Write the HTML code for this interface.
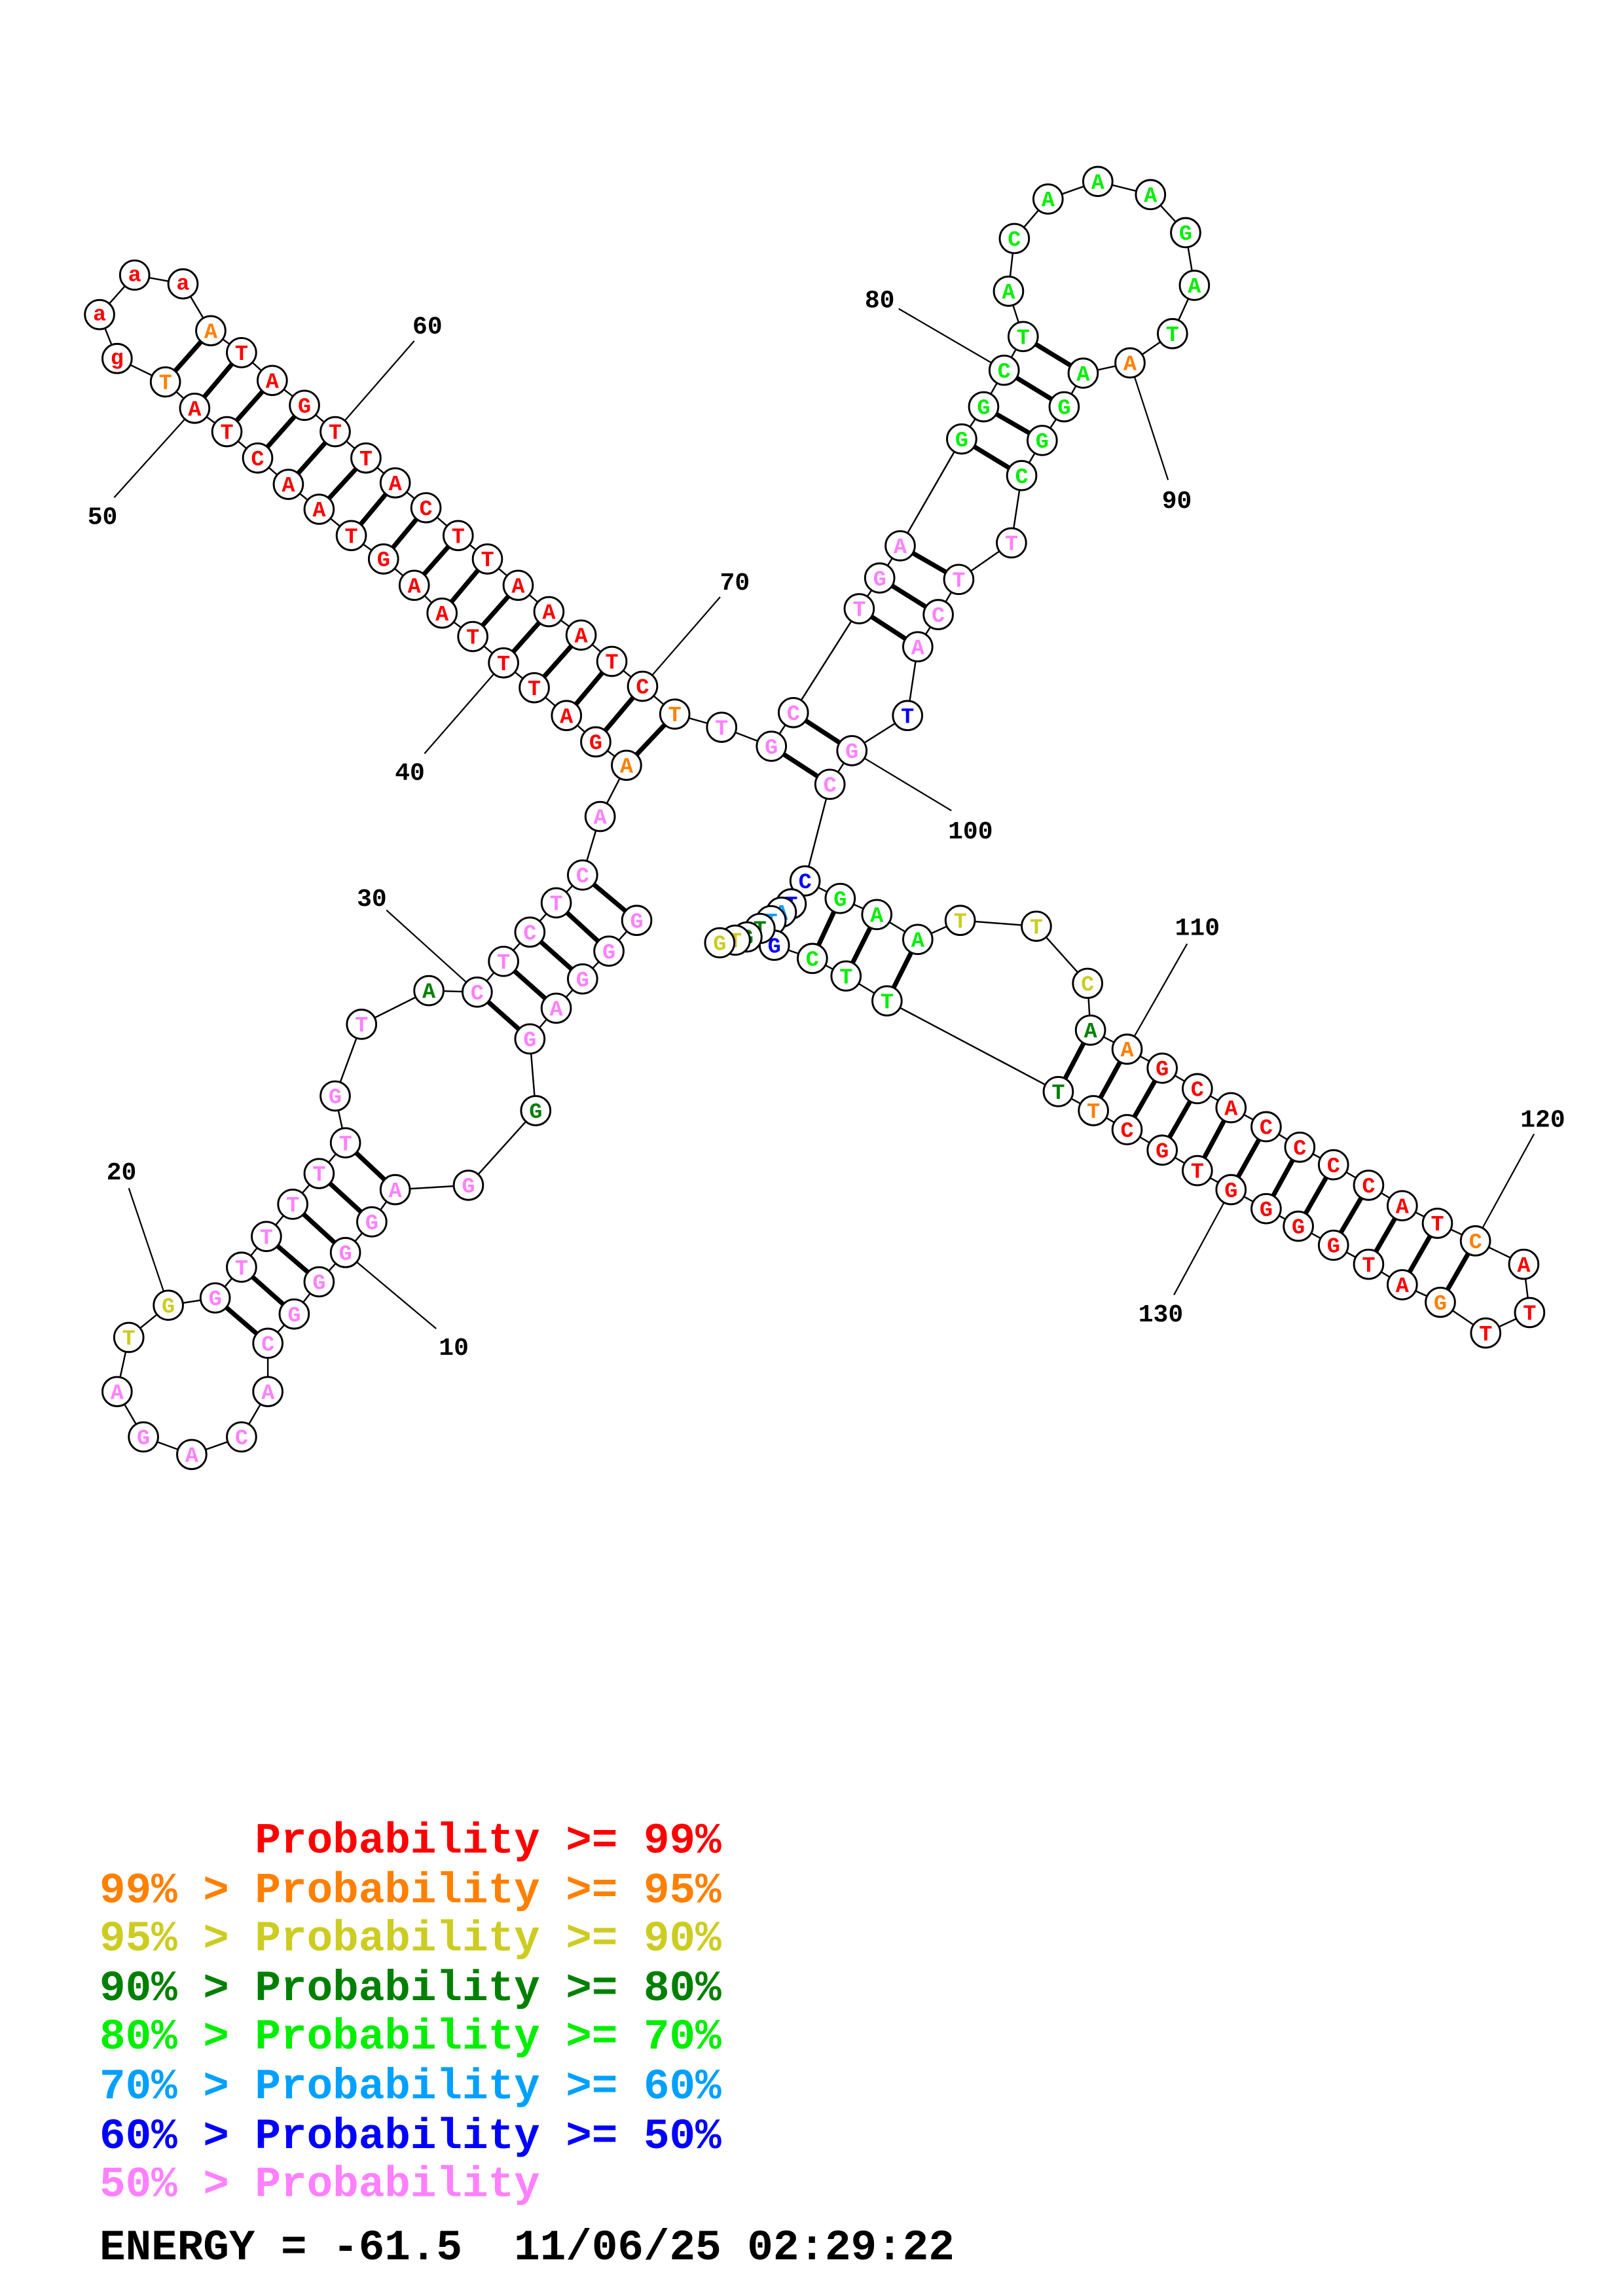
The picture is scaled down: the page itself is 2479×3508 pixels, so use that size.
<!DOCTYPE html>
<html><head><meta charset="utf-8"><style>
html,body{margin:0;padding:0;background:#fff}
svg{display:block}
.n circle{fill:#fff;stroke:#000;stroke-width:1.3}
.n text{font-family:"Liberation Mono",monospace;font-weight:bold;font-size:15px;text-anchor:middle}
.lb{font-family:"Liberation Mono",monospace;font-weight:bold;font-size:17px;fill:#000;text-anchor:middle}
.lg{font-family:"Liberation Mono",monospace;font-weight:bold;font-size:29.5px;white-space:pre}
</style></head><body>
<svg width="2479" height="3508" viewBox="0 0 1108.8 1569.1" preserveAspectRatio="none" xmlns="http://www.w3.org/2000/svg">
<defs>
<style>.R{fill:#ff0000}.O{fill:#ff8000}.Y{fill:#cccc22}.D{fill:#008000}.G{fill:#00ee00}.C{fill:#00a0ff}.B{fill:#0000ff}.P{fill:#ff80ff}</style>
</defs>
<polyline fill="none" stroke="#000" stroke-width="1.1" points="435,629 416,650 398,669 380,689 362,710 366,759 320,810 270,813 254,835 236,856 218,876 201,898 183,918 183,951 165,982 131,994 98,982 80,951 88,914 115,892 147,887 165,866 182,845 200,823 218,802 236,781 229,749 247,700 293,677 326,678 344,657 362,637 380,617 398,598 410,558 428,523 407,507 387,489 365,470 344,453 323,435 302,419 283,400 262,382 240,366 218,348 197,331 176,313 155,295 133,279 113,261 80,245 68,215 92,188 125,194 144,226 165,241 186,260 208,277 229,295 250,313 270,330 291,347 313,366 333,382 354,400 375,418 397,434 418,452 439,469 461,488 493,497 527,510 542,487 587,416 601,395 615,373 657,300 672,278 686,253 699,230 689,199 693,163 716,136 750,124 786,133 810,159 816,195 801,228 772,248 740,255 727,278 712,301 698,325 691,371 655,396 641,420 627,442 620,489 582,513 567,536 550,602 574,614 599,625 627,642 656,629 708,633 743,672 745,704 770,717 794,730 818,744 841,757 865,770 888,784 911,796 935,810 958,824 982,836 1008,848 1041,864 1045,897 1015,911 984,890 958,878 935,864 911,851 887,838 865,826 841,813 818,800 794,786 770,772 747,759 723,746 606,684 578,667 555,655 529,646 540.5,617.7 533.8,623.4 526.7,629.2 519.2,634.5 510.3,640.3 502.3,642.5 491.7,644.3"/>
<g stroke="#000" stroke-width="3.2">
<line x1="435" y1="629" x2="398" y2="598"/><line x1="416" y1="650" x2="380" y2="617"/><line x1="398" y1="669" x2="362" y2="637"/><line x1="380" y1="689" x2="344" y2="657"/><line x1="362" y1="710" x2="326" y2="678"/>
<line x1="270" y1="813" x2="236" y2="781"/><line x1="254" y1="835" x2="218" y2="802"/><line x1="236" y1="856" x2="200" y2="823"/><line x1="218" y1="876" x2="182" y2="845"/><line x1="201" y1="898" x2="165" y2="866"/><line x1="183" y1="918" x2="147" y2="887"/>
<line x1="428" y1="523" x2="461" y2="488"/><line x1="407" y1="507" x2="439" y2="469"/><line x1="387" y1="489" x2="418" y2="452"/><line x1="365" y1="470" x2="397" y2="434"/><line x1="344" y1="453" x2="375" y2="418"/><line x1="323" y1="435" x2="354" y2="400"/><line x1="302" y1="419" x2="333" y2="382"/><line x1="283" y1="400" x2="313" y2="366"/><line x1="262" y1="382" x2="291" y2="347"/><line x1="240" y1="366" x2="270" y2="330"/><line x1="218" y1="348" x2="250" y2="313"/><line x1="197" y1="331" x2="229" y2="295"/><line x1="176" y1="313" x2="208" y2="277"/><line x1="155" y1="295" x2="186" y2="260"/><line x1="133" y1="279" x2="165" y2="241"/><line x1="113" y1="261" x2="144" y2="226"/>
<line x1="527" y1="510" x2="567" y2="536"/><line x1="542" y1="487" x2="582" y2="513"/>
<line x1="587" y1="416" x2="627" y2="442"/><line x1="601" y1="395" x2="641" y2="420"/><line x1="615" y1="373" x2="655" y2="396"/>
<line x1="657" y1="300" x2="698" y2="325"/><line x1="672" y1="278" x2="712" y2="301"/><line x1="686" y1="253" x2="727" y2="278"/><line x1="699" y1="230" x2="740" y2="255"/>
<line x1="574" y1="614" x2="555" y2="655"/><line x1="599" y1="625" x2="578" y2="667"/><line x1="627" y1="642" x2="606" y2="684"/>
<line x1="745" y1="704" x2="723" y2="746"/><line x1="770" y1="717" x2="747" y2="759"/><line x1="794" y1="730" x2="770" y2="772"/><line x1="818" y1="744" x2="794" y2="786"/><line x1="841" y1="757" x2="818" y2="800"/><line x1="865" y1="770" x2="841" y2="813"/><line x1="888" y1="784" x2="865" y2="826"/><line x1="911" y1="796" x2="887" y2="838"/><line x1="935" y1="810" x2="911" y2="851"/><line x1="958" y1="824" x2="935" y2="864"/><line x1="982" y1="836" x2="958" y2="878"/><line x1="1008" y1="848" x2="984" y2="890"/>
</g>
<g stroke="#000" stroke-width="1">
<line x1="298" y1="908" x2="236" y2="856"/><line x1="88" y1="812" x2="115" y2="892"/><line x1="264" y1="622" x2="326" y2="678"/><line x1="290" y1="515" x2="344" y2="453"/><line x1="78" y1="340" x2="133" y2="279"/><line x1="283" y1="233" x2="229" y2="295"/><line x1="492" y1="408" x2="439" y2="469"/><line x1="614" y1="211" x2="686" y2="253"/><line x1="798" y1="328" x2="772" y2="248"/><line x1="650" y1="554" x2="582" y2="513"/><line x1="811" y1="645" x2="770" y2="717"/><line x1="1048" y1="775" x2="1008" y2="848"/><line x1="802" y1="885" x2="841" y2="813"/>
</g>
<g class="lb">
<text x="310" y="926">10</text><text x="83" y="806">20</text><text x="254" y="619">30</text><text x="280" y="533">40</text><text x="70" y="358">50</text><text x="292" y="228">60</text><text x="502" y="403">70</text><text x="601" y="210">80</text><text x="804" y="347">90</text><text x="663" y="573">100</text><text x="818" y="639">110</text><text x="1054" y="770">120</text><text x="793" y="903">130</text>
</g>
<g class="n">
<g transform="translate(435,629)"><circle r="10"/><text y="5" class="P">G</text></g>
<g transform="translate(416,650)"><circle r="10"/><text y="5" class="P">G</text></g>
<g transform="translate(398,669)"><circle r="10"/><text y="5" class="P">G</text></g>
<g transform="translate(380,689)"><circle r="10"/><text y="5" class="P">A</text></g>
<g transform="translate(362,710)"><circle r="10"/><text y="5" class="P">G</text></g>
<g transform="translate(366,759)"><circle r="10"/><text y="5" class="D">G</text></g>
<g transform="translate(320,810)"><circle r="10"/><text y="5" class="P">G</text></g>
<g transform="translate(270,813)"><circle r="10"/><text y="5" class="P">A</text></g>
<g transform="translate(254,835)"><circle r="10"/><text y="5" class="P">G</text></g>
<g transform="translate(236,856)"><circle r="10"/><text y="5" class="P">G</text></g>
<g transform="translate(218,876)"><circle r="10"/><text y="5" class="P">G</text></g>
<g transform="translate(201,898)"><circle r="10"/><text y="5" class="P">G</text></g>
<g transform="translate(183,918)"><circle r="10"/><text y="5" class="P">C</text></g>
<g transform="translate(183,951)"><circle r="10"/><text y="5" class="P">A</text></g>
<g transform="translate(165,982)"><circle r="10"/><text y="5" class="P">C</text></g>
<g transform="translate(131,994)"><circle r="10"/><text y="5" class="P">A</text></g>
<g transform="translate(98,982)"><circle r="10"/><text y="5" class="P">G</text></g>
<g transform="translate(80,951)"><circle r="10"/><text y="5" class="P">A</text></g>
<g transform="translate(88,914)"><circle r="10"/><text y="5" class="Y">T</text></g>
<g transform="translate(115,892)"><circle r="10"/><text y="5" class="Y">G</text></g>
<g transform="translate(147,887)"><circle r="10"/><text y="5" class="P">G</text></g>
<g transform="translate(165,866)"><circle r="10"/><text y="5" class="P">T</text></g>
<g transform="translate(182,845)"><circle r="10"/><text y="5" class="P">T</text></g>
<g transform="translate(200,823)"><circle r="10"/><text y="5" class="P">T</text></g>
<g transform="translate(218,802)"><circle r="10"/><text y="5" class="P">T</text></g>
<g transform="translate(236,781)"><circle r="10"/><text y="5" class="P">T</text></g>
<g transform="translate(229,749)"><circle r="10"/><text y="5" class="P">G</text></g>
<g transform="translate(247,700)"><circle r="10"/><text y="5" class="P">T</text></g>
<g transform="translate(293,677)"><circle r="10"/><text y="5" class="D">A</text></g>
<g transform="translate(326,678)"><circle r="10"/><text y="5" class="P">C</text></g>
<g transform="translate(344,657)"><circle r="10"/><text y="5" class="P">T</text></g>
<g transform="translate(362,637)"><circle r="10"/><text y="5" class="P">C</text></g>
<g transform="translate(380,617)"><circle r="10"/><text y="5" class="P">T</text></g>
<g transform="translate(398,598)"><circle r="10"/><text y="5" class="P">C</text></g>
<g transform="translate(410,558)"><circle r="10"/><text y="5" class="P">A</text></g>
<g transform="translate(428,523)"><circle r="10"/><text y="5" class="O">A</text></g>
<g transform="translate(407,507)"><circle r="10"/><text y="5" class="R">G</text></g>
<g transform="translate(387,489)"><circle r="10"/><text y="5" class="R">A</text></g>
<g transform="translate(365,470)"><circle r="10"/><text y="5" class="R">T</text></g>
<g transform="translate(344,453)"><circle r="10"/><text y="5" class="R">T</text></g>
<g transform="translate(323,435)"><circle r="10"/><text y="5" class="R">T</text></g>
<g transform="translate(302,419)"><circle r="10"/><text y="5" class="R">A</text></g>
<g transform="translate(283,400)"><circle r="10"/><text y="5" class="R">A</text></g>
<g transform="translate(262,382)"><circle r="10"/><text y="5" class="R">G</text></g>
<g transform="translate(240,366)"><circle r="10"/><text y="5" class="R">T</text></g>
<g transform="translate(218,348)"><circle r="10"/><text y="5" class="R">A</text></g>
<g transform="translate(197,331)"><circle r="10"/><text y="5" class="R">A</text></g>
<g transform="translate(176,313)"><circle r="10"/><text y="5" class="R">C</text></g>
<g transform="translate(155,295)"><circle r="10"/><text y="5" class="R">T</text></g>
<g transform="translate(133,279)"><circle r="10"/><text y="5" class="R">A</text></g>
<g transform="translate(113,261)"><circle r="10"/><text y="5" class="O">T</text></g>
<g transform="translate(80,245)"><circle r="10"/><text y="4" class="R">g</text></g>
<g transform="translate(68,215)"><circle r="10"/><text y="4" class="R">a</text></g>
<g transform="translate(92,188)"><circle r="10"/><text y="4" class="R">a</text></g>
<g transform="translate(125,194)"><circle r="10"/><text y="4" class="R">a</text></g>
<g transform="translate(144,226)"><circle r="10"/><text y="5" class="O">A</text></g>
<g transform="translate(165,241)"><circle r="10"/><text y="5" class="R">T</text></g>
<g transform="translate(186,260)"><circle r="10"/><text y="5" class="R">A</text></g>
<g transform="translate(208,277)"><circle r="10"/><text y="5" class="R">G</text></g>
<g transform="translate(229,295)"><circle r="10"/><text y="5" class="R">T</text></g>
<g transform="translate(250,313)"><circle r="10"/><text y="5" class="R">T</text></g>
<g transform="translate(270,330)"><circle r="10"/><text y="5" class="R">A</text></g>
<g transform="translate(291,347)"><circle r="10"/><text y="5" class="R">C</text></g>
<g transform="translate(313,366)"><circle r="10"/><text y="5" class="R">T</text></g>
<g transform="translate(333,382)"><circle r="10"/><text y="5" class="R">T</text></g>
<g transform="translate(354,400)"><circle r="10"/><text y="5" class="R">A</text></g>
<g transform="translate(375,418)"><circle r="10"/><text y="5" class="R">A</text></g>
<g transform="translate(397,434)"><circle r="10"/><text y="5" class="R">A</text></g>
<g transform="translate(418,452)"><circle r="10"/><text y="5" class="R">T</text></g>
<g transform="translate(439,469)"><circle r="10"/><text y="5" class="R">C</text></g>
<g transform="translate(461,488)"><circle r="10"/><text y="5" class="O">T</text></g>
<g transform="translate(493,497)"><circle r="10"/><text y="5" class="P">T</text></g>
<g transform="translate(527,510)"><circle r="10"/><text y="5" class="P">G</text></g>
<g transform="translate(542,487)"><circle r="10"/><text y="5" class="P">C</text></g>
<g transform="translate(587,416)"><circle r="10"/><text y="5" class="P">T</text></g>
<g transform="translate(601,395)"><circle r="10"/><text y="5" class="P">G</text></g>
<g transform="translate(615,373)"><circle r="10"/><text y="5" class="P">A</text></g>
<g transform="translate(657,300)"><circle r="10"/><text y="5" class="G">G</text></g>
<g transform="translate(672,278)"><circle r="10"/><text y="5" class="G">G</text></g>
<g transform="translate(686,253)"><circle r="10"/><text y="5" class="G">C</text></g>
<g transform="translate(699,230)"><circle r="10"/><text y="5" class="G">T</text></g>
<g transform="translate(689,199)"><circle r="10"/><text y="5" class="G">A</text></g>
<g transform="translate(693,163)"><circle r="10"/><text y="5" class="G">C</text></g>
<g transform="translate(716,136)"><circle r="10"/><text y="5" class="G">A</text></g>
<g transform="translate(750,124)"><circle r="10"/><text y="5" class="G">A</text></g>
<g transform="translate(786,133)"><circle r="10"/><text y="5" class="G">A</text></g>
<g transform="translate(810,159)"><circle r="10"/><text y="5" class="G">G</text></g>
<g transform="translate(816,195)"><circle r="10"/><text y="5" class="G">A</text></g>
<g transform="translate(801,228)"><circle r="10"/><text y="5" class="G">T</text></g>
<g transform="translate(772,248)"><circle r="10"/><text y="5" class="O">A</text></g>
<g transform="translate(740,255)"><circle r="10"/><text y="5" class="G">A</text></g>
<g transform="translate(727,278)"><circle r="10"/><text y="5" class="G">G</text></g>
<g transform="translate(712,301)"><circle r="10"/><text y="5" class="G">G</text></g>
<g transform="translate(698,325)"><circle r="10"/><text y="5" class="G">C</text></g>
<g transform="translate(691,371)"><circle r="10"/><text y="5" class="P">T</text></g>
<g transform="translate(655,396)"><circle r="10"/><text y="5" class="P">T</text></g>
<g transform="translate(641,420)"><circle r="10"/><text y="5" class="P">C</text></g>
<g transform="translate(627,442)"><circle r="10"/><text y="5" class="P">A</text></g>
<g transform="translate(620,489)"><circle r="10"/><text y="5" class="B">T</text></g>
<g transform="translate(582,513)"><circle r="10"/><text y="5" class="P">G</text></g>
<g transform="translate(567,536)"><circle r="10"/><text y="5" class="P">C</text></g>
<g transform="translate(574,614)"><circle r="10"/><text y="5" class="G">G</text></g>
<g transform="translate(599,625)"><circle r="10"/><text y="5" class="G">A</text></g>
<g transform="translate(627,642)"><circle r="10"/><text y="5" class="G">A</text></g>
<g transform="translate(656,629)"><circle r="10"/><text y="5" class="Y">T</text></g>
<g transform="translate(708,633)"><circle r="10"/><text y="5" class="Y">T</text></g>
<g transform="translate(743,672)"><circle r="10"/><text y="5" class="Y">C</text></g>
<g transform="translate(745,704)"><circle r="10"/><text y="5" class="D">A</text></g>
<g transform="translate(770,717)"><circle r="10"/><text y="5" class="O">A</text></g>
<g transform="translate(794,730)"><circle r="10"/><text y="5" class="R">G</text></g>
<g transform="translate(818,744)"><circle r="10"/><text y="5" class="R">C</text></g>
<g transform="translate(841,757)"><circle r="10"/><text y="5" class="R">A</text></g>
<g transform="translate(865,770)"><circle r="10"/><text y="5" class="R">C</text></g>
<g transform="translate(888,784)"><circle r="10"/><text y="5" class="R">C</text></g>
<g transform="translate(911,796)"><circle r="10"/><text y="5" class="R">C</text></g>
<g transform="translate(935,810)"><circle r="10"/><text y="5" class="R">C</text></g>
<g transform="translate(958,824)"><circle r="10"/><text y="5" class="R">A</text></g>
<g transform="translate(982,836)"><circle r="10"/><text y="5" class="R">T</text></g>
<g transform="translate(1008,848)"><circle r="10"/><text y="5" class="O">C</text></g>
<g transform="translate(1041,864)"><circle r="10"/><text y="5" class="R">A</text></g>
<g transform="translate(1045,897)"><circle r="10"/><text y="5" class="R">T</text></g>
<g transform="translate(1015,911)"><circle r="10"/><text y="5" class="R">T</text></g>
<g transform="translate(984,890)"><circle r="10"/><text y="5" class="O">G</text></g>
<g transform="translate(958,878)"><circle r="10"/><text y="5" class="R">A</text></g>
<g transform="translate(935,864)"><circle r="10"/><text y="5" class="R">T</text></g>
<g transform="translate(911,851)"><circle r="10"/><text y="5" class="R">G</text></g>
<g transform="translate(887,838)"><circle r="10"/><text y="5" class="R">G</text></g>
<g transform="translate(865,826)"><circle r="10"/><text y="5" class="R">G</text></g>
<g transform="translate(841,813)"><circle r="10"/><text y="5" class="R">G</text></g>
<g transform="translate(818,800)"><circle r="10"/><text y="5" class="R">T</text></g>
<g transform="translate(794,786)"><circle r="10"/><text y="5" class="R">G</text></g>
<g transform="translate(770,772)"><circle r="10"/><text y="5" class="R">C</text></g>
<g transform="translate(747,759)"><circle r="10"/><text y="5" class="O">T</text></g>
<g transform="translate(723,746)"><circle r="10"/><text y="5" class="D">T</text></g>
<g transform="translate(606,684)"><circle r="10"/><text y="5" class="G">T</text></g>
<g transform="translate(578,667)"><circle r="10"/><text y="5" class="G">T</text></g>
<g transform="translate(555,655)"><circle r="10"/><text y="5" class="G">C</text></g>
<g transform="translate(550,602)"><circle r="10"/><text y="5" class="B">C</text></g>
<g transform="translate(540.5,617.7)"><circle r="10"/><text y="5" class="B">T</text></g>
<g transform="translate(533.8,623.4)"><circle r="10"/><text y="5" class="C">A</text></g>
<g transform="translate(526.7,629.2)"><circle r="10"/><text y="5" class="C">T</text></g>
<g transform="translate(529,646)"><circle r="10"/><text y="5" class="B">G</text></g>
<g transform="translate(519.2,634.5)"><circle r="10"/><text y="5" class="D">T</text></g>
<g transform="translate(510.3,640.3)"><circle r="10"/><text y="5" class="D">G</text></g>
<g transform="translate(502.3,642.5)"><circle r="10"/><text y="5" class="Y">T</text></g>
<g transform="translate(491.7,644.3)"><circle r="10"/><text y="5" class="Y">G</text></g>
</g>
<text class="lg" x="68" y="1266" fill="#ff0000" xml:space="preserve">      Probability &gt;= 99%</text>
<text class="lg" x="68" y="1300" fill="#ff8000" xml:space="preserve">99% &gt; Probability &gt;= 95%</text>
<text class="lg" x="68" y="1333" fill="#cccc22" xml:space="preserve">95% &gt; Probability &gt;= 90%</text>
<text class="lg" x="68" y="1367" fill="#008000" xml:space="preserve">90% &gt; Probability &gt;= 80%</text>
<text class="lg" x="68" y="1400" fill="#00ee00" xml:space="preserve">80% &gt; Probability &gt;= 70%</text>
<text class="lg" x="68" y="1434" fill="#00a0ff" xml:space="preserve">70% &gt; Probability &gt;= 60%</text>
<text class="lg" x="68" y="1468" fill="#0000ff" xml:space="preserve">60% &gt; Probability &gt;= 50%</text>
<text class="lg" x="68" y="1501" fill="#ff80ff" xml:space="preserve">50% &gt; Probability</text>
<text class="lg" x="68" y="1544" fill="#000" xml:space="preserve">ENERGY = -61.5  11/06/25 02:29:22</text>
</svg>
</body></html>
